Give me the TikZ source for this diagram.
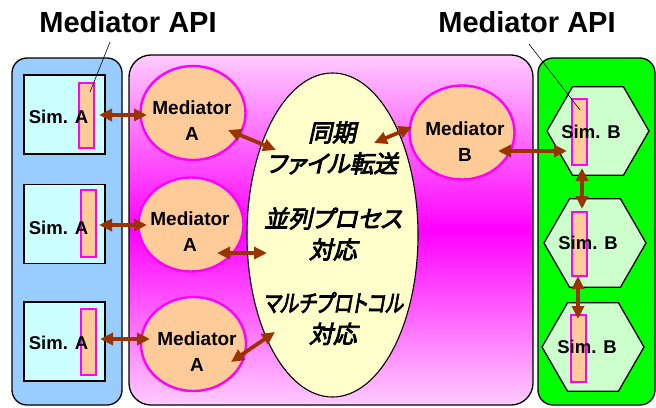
\documentclass[tikz,border=0pt]{standalone}
\usepackage{fontspec}
\usetikzlibrary{shapes.geometric,arrows.meta}
\setmainfont{Liberation Sans}
\newfontfamily\jpfont[FakeBold=3.5,FakeSlant=0.22,RawFeature=+palt]{Noto Sans CJK JP}

\definecolor{simblue}{HTML}{99CCFF}
\definecolor{simcyan}{HTML}{CCFFFF}
\definecolor{peach}{HTML}{FFCC99}
\definecolor{pinklt}{HTML}{FFCCFF}
\definecolor{magen}{HTML}{FF00FF}
\definecolor{lime}{HTML}{00FF00}
\definecolor{mint}{HTML}{CCFFCC}
\definecolor{cream}{HTML}{FFFFCC}
\definecolor{linkbrown}{HTML}{993300}

\tikzset{
  panel/.style={draw=black, line width=1.3pt, rounded corners=15pt},
  simbox/.style={draw=black, line width=1.6pt, fill=simcyan, minimum width=81pt, minimum height=79pt, inner sep=0},
  apibar/.style={draw=magen, line width=1.6pt, fill=peach, minimum width=15pt, inner sep=0},
  medcirc/.style={ellipse, draw=magen, line width=2.4pt, fill=peach, minimum width=105pt, minimum height=94pt, inner sep=0},
  simhex/.style={regular polygon, regular polygon sides=6, draw=black, line width=1.3pt, fill=mint, minimum size=102pt, inner sep=0},
  simlbl/.style={font=\bfseries\fontsize{18.5}{22}\selectfont, inner sep=0},
  medtxt/.style={font=\bfseries\fontsize{19}{26}\selectfont, align=center, inner sep=0},
  apitxt/.style={font=\bfseries\fontsize{29}{32}\selectfont, inner sep=0},
  jptxt/.style={font=\jpfont\fontsize{24}{31}\selectfont, align=center, inner sep=0},
  tip/.tip={Triangle[length=13pt 0 0, width=12pt 0 0]},
  link/.style={draw=linkbrown, line width=3.8pt, tip-tip},
  leader/.style={draw=black, line width=0.6pt},
}

\begin{document}
\begin{tikzpicture}[x=1pt, y=-1pt]
\useasboundingbox (0,0) rectangle (656,407);

% three simulator environments
\path[panel, fill=simblue] (12,58) rectangle (122,405);
\path[panel, rounded corners=22pt, top color=pinklt, bottom color=pinklt, middle color=magen] (129,55) rectangle (533,405);
\path[panel, fill=lime] (538,58) rectangle (655,405);

% central mediation service
\node[ellipse, draw=black, line width=1.1pt, fill=cream, minimum width=171pt, minimum height=324pt, inner sep=0] (hub) at (332.5,235) {};
\node[jptxt] (t1) at (332,148) {同期\\ファイル転送};
\node[jptxt] (t2) at (333,234) {並列プロセス\\対応};
\node[jptxt] (t3) at (333,318.5) {\scalebox{0.8}[1]{マルチプロトコル}\\対応};

% mediators
\node[medcirc] (medA1) at (193,113) {};
\node[medcirc] (medA2) at (191,224.5) {};
\node[medcirc] (medA3) at (193.5,344) {};
\node[medcirc] (medB) at (462,132.5) {};
\node[medtxt] at (192,121) {Mediator\\A};
\node[medtxt] at (190,232) {Mediator\\A};
\node[medtxt] at (197,351.5) {Mediator\\A};
\node[medtxt] at (465,141.5) {Mediator\\B};

% simulators A
\node[simbox] (simA1) at (64.5,114.5) {};
\node[simbox] (simA2) at (64.5,224) {};
\node[simbox] (simA3) at (64.5,341.5) {};
\node[apibar, minimum height=65pt] (barA1) at (86.5,115.5) {};
\node[apibar, minimum height=67pt] (barA2) at (88.5,223.5) {};
\node[apibar, minimum height=66pt] (barA3) at (88.5,342) {};
\node[simlbl] at (58.5,117) {Sim. A};
\node[simlbl] at (58.5,228) {Sim. A};
\node[simlbl] at (58.5,343) {Sim. A};

% simulators B
\node[simhex] (simB1) at (598,131) {};
\node[simhex] (simB2) at (595,243) {};
\node[simhex] (simB3) at (593,347) {};
\node[apibar, minimum height=66pt] (barB1) at (579.5,132) {};
\node[apibar, minimum height=64pt] (barB2) at (579.5,244) {};
\node[apibar, minimum height=67pt] (barB3) at (578.5,348.5) {};
\node[simlbl] at (591,132) {Sim. B};
\node[simlbl] at (588,243) {Sim. B};
\node[simlbl] at (587,347) {Sim. B};

% API callouts
\node[apitxt] (apiL) at (128,22) {Mediator API};
\node[apitxt] (apiR) at (527,22) {Mediator API};
\draw[leader] ([shift={(-18,20)}]apiL.center) -- ([shift={(3.5,-23.5)}]barA1.center);
\draw[leader] ([shift={(2,22)}]apiR.center) -- ([shift={(0.5,-22)}]barB1.center);

% data links
\draw[link] ([shift={(12.5,-0.5)}]barA1.center) -- ([shift={(-46,2)}]medA1.center);
\draw[link] ([shift={(35,17)}]medA1.center) -- ([shift={(-56.5,-85)}]hub.center);
\draw[link] ([shift={(10.5,1.5)}]barA2.center) -- ([shift={(-44,0.5)}]medA2.center);
\draw[link] ([shift={(26,28.5)}]medA2.center) -- ([shift={(-65.5,18)}]hub.center);
\draw[link] ([shift={(11.5,-3)}]barA3.center) -- ([shift={(-43.5,-5)}]medA3.center);
\draw[link] ([shift={(37.5,18)}]medA3.center) -- ([shift={(-57.5,97)}]hub.center);
\draw[link] ([shift={(41.5,-92)}]hub.center) -- ([shift={(-50,-5.5)}]medB.center);
\draw[link] ([shift={(36,18.5)}]medB.center) -- ([shift={(-12.5,19)}]barB1.center);
\draw[link] ([shift={(2.5,36)}]barB1.center) -- ([shift={(2.5,-35)}]barB2.center);
\draw[link] ([shift={(-1.5,32)}]barB2.center) -- ([shift={(-0.5,-29.5)}]barB3.center);
\end{tikzpicture}
\end{document}
